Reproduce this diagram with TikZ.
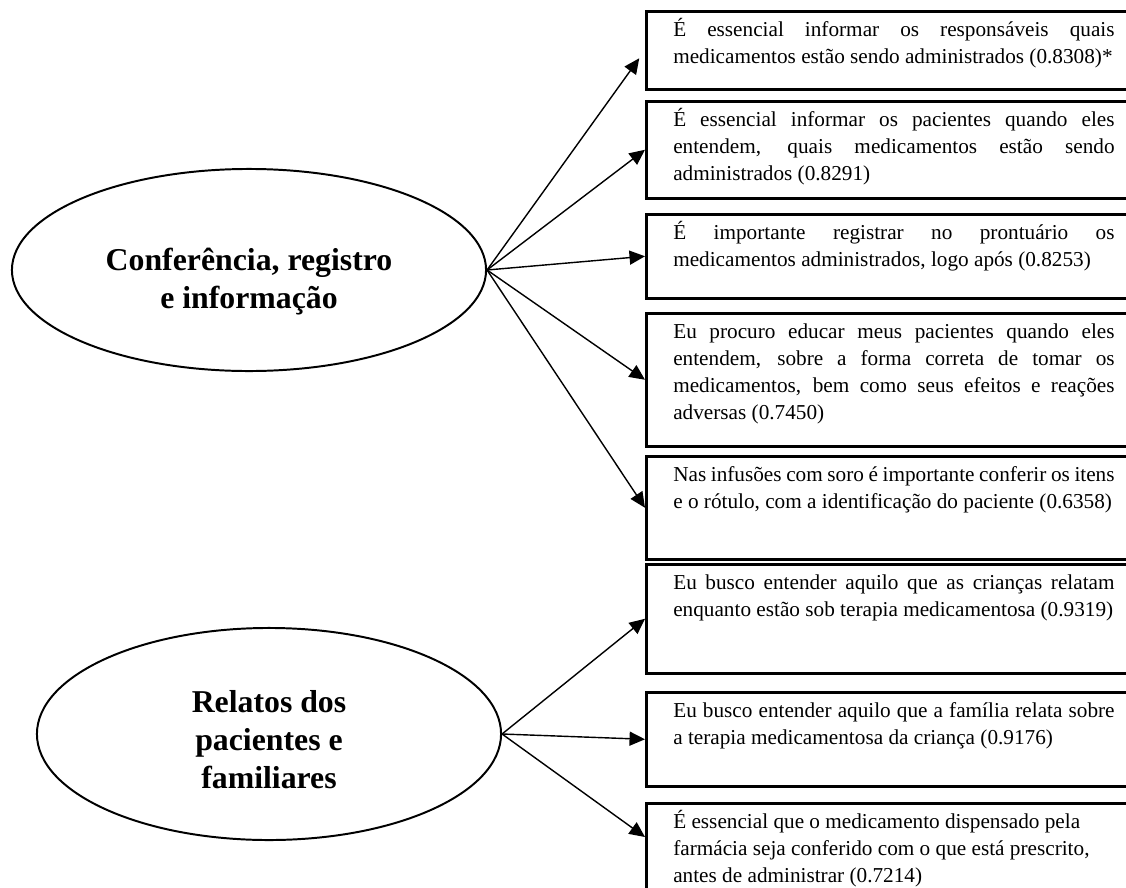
\documentclass[tikz,border=0pt]{standalone}
\usepackage{fontspec}
\setmainfont{Liberation Serif}
\usepackage{tikz}
\usetikzlibrary{shapes, calc, arrows.meta, positioning}

\newlength{\pxlen}
\setlength{\pxlen}{0.025cm}
\newcommand{\itemtext}[2]{\parbox[t][\dimexpr#1\pxlen-12\pxlen\relax][t]{11.03cm}{\strut #2}}

\begin{document}
\begin{tikzpicture}[x=0.025cm, y=-0.025cm]
\tikzstyle{factor}=[draw=black, ellipse, line width=1.4pt, inner sep=0pt]
\tikzstyle{factortext}=[align=center, inner sep=0pt, font=\fontsize{22.6pt}{27pt}\selectfont\bfseries]
\tikzstyle{itembox}=[draw=black, line width=1.8pt, anchor=north west, inner xsep=0.675cm, inner ysep=0.15cm, font=\fontsize{15.1pt}{19.2pt}\selectfont]
\tikzstyle{loading}=[-{Triangle[length=11pt, width=10pt]}, line width=1pt]

\useasboundingbox (0,0) rectangle (1126,888);
\clip (0,0) rectangle (1126,888);

\node (f1) at (249,270) [factor, minimum width=11.85cm, minimum height=5.05cm] {};
\node (f2) at (269,734) [factor, minimum width=11.6cm, minimum height=5.3cm] {};
\node (t1) at ([yshift=-0.3cm]f1.center) [factortext] {Conferência, registro\\ e informação};
\node (t2) at ([yshift=-0.15cm]f2.center) [factortext] {Relatos dos\\ pacientes e\\ familiares};

\node (b1) at (645,10) [itembox] {\itemtext{78}{É essencial informar os responsáveis quais\linebreak medicamentos estão sendo administrados (0.8308)*}};
\node (b2) at (645,100) [itembox] {\itemtext{97}{É essencial informar os pacientes quando eles\linebreak entendem, quais medicamentos estão sendo\linebreak administrados (0.8291)}};
\node (b3) at (645,213) [itembox] {\itemtext{84}{É importante registrar no prontuário os\linebreak medicamentos administrados, logo após (0.8253)}};
\node (b4) at (645,312) [itembox] {\itemtext{133}{Eu procuro educar meus pacientes quando eles\linebreak entendem, sobre a forma correta de tomar os\linebreak medicamentos, bem como seus efeitos e reações\linebreak adversas (0.7450)}};
\node (b5) at (645,455) [itembox] {\itemtext{103}{Nas infusões com soro é importante conferir os itens\linebreak e o rótulo, com a identificação do paciente (0.6358)}};
\node (b6) at (645,563) [itembox] {\itemtext{109}{Eu busco entender aquilo que as crianças relatam\linebreak enquanto estão sob terapia medicamentosa (0.9319)}};
\node (b7) at (645,691) [itembox] {\itemtext{94}{Eu busco entender aquilo que a família relata sobre\linebreak a terapia medicamentosa da criança (0.9176)}};
\node (b8) at (645,802) [itembox] {\itemtext{110}{\raggedright É essencial que o medicamento dispensado pela\newline farmácia seja conferido com o que está prescrito,\newline antes de administrar (0.7214)}};

\draw [loading, shorten >=7pt] (f1.east) -- (b1.west);
\draw [loading] (f1.east) -- (b2.west);
\draw [loading] (f1.east) -- (b3.west);
\draw [loading] (f1.east) -- (b4.west);
\draw [loading] (f1.east) -- (b5.west);

\draw [loading] (f2.east) -- (b6.west);
\draw [loading] (f2.east) -- (b7.west);
\draw [loading] (f2.east) -- ([yshift=-0.875cm]b8.north west);
\end{tikzpicture}
\end{document}
